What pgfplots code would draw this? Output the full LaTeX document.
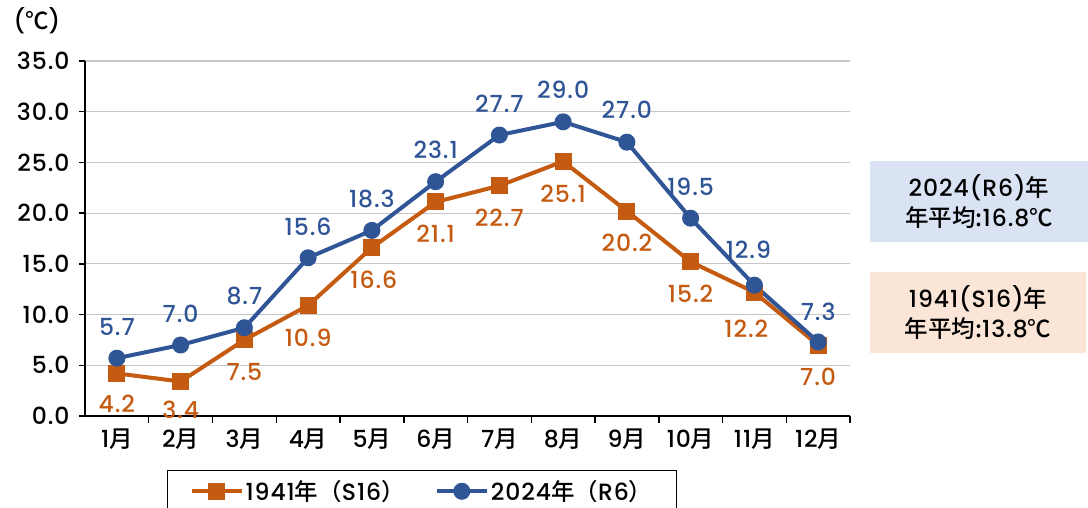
\documentclass[border=0pt]{standalone}
\usepackage{pgfplots}
\pgfplotsset{compat=1.18}
\usepackage{pgfplotstable}
\usepackage{fontspec}
\setmainfont{Poppins}[UprightFont={* Medium}, LetterSpace=4]
\newfontfamily\jp{Noto Sans CJK JP}[UprightFont={* Medium}]
\definecolor{cor}{HTML}{C55A11}
\definecolor{cbl}{HTML}{2F5597}
\definecolor{boxb}{HTML}{DAE3F3}
\definecolor{boxo}{HTML}{FBE5D6}
\newcommand\fs{\fontsize{23.5}{27}\selectfont}
\newcommand\J[1]{{\jp #1}}
\pgfplotstableread{
x y dx dy
1 4.2 0 -30
2 3.4 0 -28
3 7.5 0 -32
4 10.9 0 -32
5 16.6 2 -32
6 21.1 0 -32
7 22.7 0 -32
8 25.1 0 -32
9 20.2 0 -32
10 15.2 0 -32
11 12.2 -8 -37
12 7.0 0 -32
}\old
\pgfplotstableread{
x y dx dy
1 5.7 0 31
2 7.0 0 31
3 8.7 0 32
4 15.6 0 31
5 18.3 0 31
6 23.1 0 32
7 27.7 0 31
8 29.0 0 32
9 27.0 0 32
10 19.5 0 31
11 12.9 -6 35
12 7.3 0 30
}\new
\begin{document}
\begin{tikzpicture}[x=1pt,y=1pt]
\path[use as bounding box] (0,0) rectangle (1088,507);
\begin{axis}[
  at={(85pt,91pt)}, anchor=south west,
  width=765pt, height=355pt, scale only axis,
  xmin=0.5, xmax=12.5, ymin=0, ymax=35,
  axis lines*=left,
  axis line style={line width=2pt, black},
  xtick={1,...,12},
  xticklabels={1\J{月},2\J{月},3\J{月},4\J{月},5\J{月},6\J{月},7\J{月},8\J{月},9\J{月},10\J{月},11\J{月},12\J{月}},
  minor xtick={1.5,2.5,...,12.5},
  major x tick style={draw=none},
  minor x tick style={black, line width=1.5pt},
  minor tick length=7pt,
  ytick={0,5,...,35},
  y tick style={black, line width=1.5pt},
  major tick length=6pt,
  tick align=outside,
  ymajorgrids,
  grid style={line width=1.2pt, gray!45},
  /pgf/number format/.cd, fixed, fixed zerofill, precision=1, assume math mode=true,
  /pgfplots/.cd,
  ticklabel style={font=\fs, black},
  xticklabel style={yshift=-3pt},
  yticklabel style={xshift=-6pt},
  legend style={at={(0.4405,-0.212)}, anchor=center, legend columns=2,
    draw=black, line width=1pt, font=\fs,
    inner xsep=22pt, inner ysep=8pt,
    /tikz/every even column/.append style={column sep=28pt}},
  legend image code/.code={\draw[#1, mark repeat=2, mark phase=2] plot coordinates {(0pt,0pt) (25pt,0pt) (50pt,0pt)};},
  nodes near coords,
  visualization depends on={\thisrow{dx} \as \dx},
  visualization depends on={\thisrow{dy} \as \dy},
  nodes near coords style={font=\fs, anchor=center, xshift=\dx, yshift=\dy},
]
\addplot[cor, line width=4pt, mark=square*, mark size=8pt, mark options={line width=1pt},
  nodes near coords style={text=cor}] table[x=x,y=y] {\old};
\addlegendentry{1941\J{年（}S16\J{）}}
\addplot[cbl, line width=4pt, mark=*, mark size=8pt, mark options={line width=1pt},
  nodes near coords style={text=cbl}] table[x=x,y=y] {\new};
\addlegendentry{2024\J{年（}R6\J{）}}
\end{axis}
\node[font=\fs] at (37,486) {(\J{℃})};
\node[fill=boxb, minimum width=218pt, minimum height=81pt, align=center, inner sep=0pt,
  font=\fontsize{23.5}{30}\selectfont] at (979,305.5) {2024(R6)\J{年}\\\J{年平均:}16.8\J{℃}};
\node[fill=boxo, minimum width=216pt, minimum height=81pt, align=center, inner sep=0pt,
  font=\fontsize{23.5}{30}\selectfont] at (978,194.5) {1941(S16)\J{年}\\\J{年平均:}13.8\J{℃}};
\end{tikzpicture}
\end{document}
